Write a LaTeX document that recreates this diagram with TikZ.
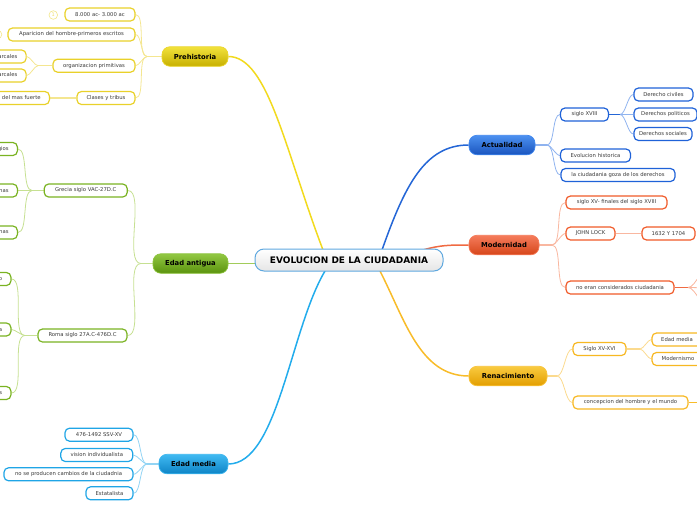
\documentclass[tikz,border=0pt]{standalone}
\usepackage{fontspec}
\setmainfont{DejaVu Sans}
\usetikzlibrary{calc}
\pgfdeclarelayer{bg}
\pgfsetlayers{bg,main}
% main node colours (border, top, bottom)
\definecolor{yB}{HTML}{EAD52A}\definecolor{yT}{HTML}{F2E23C}\definecolor{yD}{HTML}{C7B000}
\definecolor{gB}{HTML}{8CC33C}\definecolor{gT}{HTML}{92C843}\definecolor{gD}{HTML}{5B930E}
\definecolor{lB}{HTML}{3DB6EE}\definecolor{lT}{HTML}{40BAF2}\definecolor{lD}{HTML}{0E84C6}
\definecolor{bB}{HTML}{3F86EE}\definecolor{bT}{HTML}{4C90F0}\definecolor{bD}{HTML}{1A55BE}
\definecolor{rB}{HTML}{F47A58}\definecolor{rT}{HTML}{F57C5C}\definecolor{rD}{HTML}{D6461A}
\definecolor{oB}{HTML}{F8C33A}\definecolor{oT}{HTML}{F9CB40}\definecolor{oD}{HTML}{E39E00}
% sub node borders
\definecolor{yS}{HTML}{E9D12A}\definecolor{gS}{HTML}{7AB322}\definecolor{lS}{HTML}{1FA5E6}
\definecolor{bS}{HTML}{1F62D8}\definecolor{rS}{HTML}{F05A28}\definecolor{oS}{HTML}{F7B822}
% connectors
\definecolor{yC}{HTML}{F2DA1E}\definecolor{gC}{HTML}{A2CC5A}\definecolor{lC}{HTML}{22ACEC}
\definecolor{bC}{HTML}{2466D6}\definecolor{rC}{HTML}{F06A42}\definecolor{oC}{HTML}{F8BC2A}
\definecolor{ySc}{HTML}{F4E690}\definecolor{gSc}{HTML}{C6E092}\definecolor{lSc}{HTML}{92D4F4}
\definecolor{bSc}{HTML}{8FB3EF}\definecolor{rSc}{HTML}{F9B7A0}\definecolor{oSc}{HTML}{FBDA8E}
\definecolor{txt}{HTML}{3A3A3A}\definecolor{cB}{HTML}{5FA8DF}
\tikzset{
  ctr/.style={draw=cB, line width=1pt, top color=white, bottom color=black!10,
    rounded corners=9pt, font=\bfseries\fontsize{9}{10}\selectfont, text=black,
    minimum width=188pt, minimum height=22pt, inner sep=0pt},
  mn/.style n args={3}{draw=#1, line width=0.7pt, top color=#2, bottom color=#3,
    rounded corners=8pt, font=\bfseries\fontsize{6.8}{8}\selectfont, text=black,
    minimum height=19.5pt, inner sep=0pt},
  sub/.style={draw=#1, line width=1.2pt, rounded corners=4.5pt, fill=white,
    font=\fontsize{5.3}{6}\selectfont, text=txt, minimum height=13pt, inner sep=0pt},
  cut/.style={sub=#1, anchor=east, inner xsep=8.8pt},
  icon/.style={circle, draw=yS!55, line width=0.6pt, fill=white, minimum size=8.6pt,
    inner sep=0pt, font=\fontsize{5}{5}\selectfont, text=yS!70},
  conn/.style={draw=#1, line width=0.8pt},
  hub/.style={draw=#1, line width=1.1pt},
  trunk/.style={draw=#1, line width=1.5pt},
  fan/.style={out=180, in=0, looseness=0.6},
  fanr/.style={out=0, in=180, looseness=0.6}
}
\begin{document}
\begin{tikzpicture}[x=1pt, y=-1pt]
\useasboundingbox (0,0) rectangle (697,520);
\clip (0,0) rectangle (697,520);

% ---------- centre and main branches
\node[ctr] (c) at (349,260) {EVOLUCION DE LA CIUDADANIA};
\node[mn={yB}{yT}{yD}, minimum width=66pt] (pre) at (195,56.5) {Prehistoria};
\node[mn={gB}{gT}{gD}, minimum width=75pt] (ant) at (190.5,263.5) {Edad antigua};
\node[mn={lB}{lT}{lD}, minimum width=69pt] (med) at (193.5,464) {Edad media};
\node[mn={bB}{bT}{bD}, minimum width=66pt] (act) at (502,145) {Actualidad};
\node[mn={rB}{rT}{rD}, minimum width=70pt] (mod) at (504,245) {Modernidad};
\node[mn={oB}{oT}{oD}, minimum width=78pt] (ren) at (508,376) {Renacimiento};

% ---------- Prehistoria
\node[sub=yS, minimum width=70pt] (p1) at (100,14.5) {8.000 ac- 3.000 ac};
\node[sub=yS, minimum width=127pt] (p2) at (71.5,34.5) {Aparicion del hombre-primeros escritos};
\node[sub=yS, minimum width=82pt] (p3) at (94,65.7) {organizacion primitivas};
\node[sub=yS, minimum width=58pt] (p4) at (106,98) {Clases y tribus};
\node[cut=yS] (p31) at (26.7,56.5) {Comunidades matriarcales};
\node[cut=yS] (p32) at (26.7,75.5) {Comunidades patriarcales};
\node[cut=yS] (p41) at (50,98) {La ley del mas fuerte};
\node[icon] (i1) at (53.3,15) {1};
\node[icon] (i2) at (-2.5,34.5) {1};

% ---------- Edad antigua
\node[sub=gS, minimum width=83pt] (g) at (85.7,190.5) {Grecia siglo VAC-27D.C};
\node[cut=gS] (g1) at (18,149) {Ciudadanos con privilegios};
\node[cut=gS] (g2) at (18,190.5) {Democracia en Atenas};
\node[cut=gS] (g3) at (18,232.5) {Esparta y Atenas};
\node[sub=gS, minimum width=89pt] (r) at (82.5,335.5) {Roma siglo 27A.C-476D.C};
\node[cut=gS] (r1) at (11.5,279) {Ciudadania por derecho};
\node[cut=gS] (r2) at (11.5,329.5) {Ciudadania romana};
\node[cut=gS] (r3) at (11.5,393) {Derechos civiles};

% ---------- Edad media
\node[sub=lS, minimum width=68pt] (m1) at (99,434.7) {476-1492 SSV-XV};
\node[sub=lS, minimum width=72pt] (m2) at (96.8,455) {vision individualista};
\node[sub=lS, minimum width=129pt] (m3) at (68.5,474.3) {no se producen cambios de la ciudadnia};
\node[sub=lS, minimum width=47pt] (m4) at (109.5,493.3) {Estatalista};

% ---------- Actualidad
\node[sub=bS, minimum width=48pt] (a1) at (584.5,114.5) {siglo XVIII};
\node[sub=bS, minimum width=59pt] (a11) at (663.5,94.5) {Derecho civiles};
\node[sub=bS, minimum width=63pt] (a12) at (665.5,114.5) {Derechos politicos};
\node[sub=bS, minimum width=58pt] (a13) at (663,134) {Derechos sociales};
\node[sub=bS, minimum width=70pt] (a2) at (595.5,155.5) {Evolucion historica};
\node[sub=bS, minimum width=114pt] (a3) at (618,175) {la ciudadania goza de los derechos};

% ---------- Modernidad
\node[sub=rS, minimum width=101pt] (mo1) at (616.5,202.5) {siglo XV- finales del siglo XVIII};
\node[sub=rS, minimum width=49pt] (mo2) at (590.5,233.5) {JOHN LOCK};
\node[sub=rS, minimum width=53pt] (mo21) at (668.5,233.5) {1632 Y 1704};
\node[sub=rS, minimum width=108pt] (mo3) at (620,287.5) {no eran considerados ciudadania};
\coordinate (mo31) at (712,262);
\coordinate (mo32) at (712,288);
\coordinate (mo33) at (712,313);

% ---------- Renacimiento
\node[sub=oS, minimum width=53pt] (re1) at (599.5,349) {Siglo XV-XVI};
\node[sub=oS, minimum width=50pt] (re11) at (677,339.5) {Edad media};
\node[sub=oS, minimum width=52pt] (re12) at (678,359) {Modernismo};
\node[sub=oS, minimum width=115pt] (re2) at (630.5,402.5) {concepcion del hombre y el mundo};
\coordinate (re21) at (710,402.5);

% ---------- connectors
\begin{pgfonlayer}{bg}
  \coordinate (ey) at (323,250);
  \coordinate (eg) at (256,263.5);
  \coordinate (el) at (325,271);
  \coordinate (eb) at (382,250);
  \coordinate (er) at (423,250);
  \coordinate (eo) at (380,271);
  \draw[trunk=yC] (ey) .. controls (285,150) and (268,56.5) .. (pre.east);
  \draw[trunk=gC] (eg) -- (ant.east);
  \draw[trunk=lC] (el) .. controls (290,330) and (278,464) .. (med.east);
  \draw[trunk=bC] (eb) .. controls (405,185) and (425,145) .. (act.west);
  \draw[trunk=rC] (er) .. controls (440,245) and (450,245) .. (mod.west);
  \draw[trunk=oC] (eo) .. controls (405,320) and (420,376) .. (ren.west);

  % Prehistoria
  \coordinate (jp) at (147,56.5);
  \draw[hub=ySc] (pre.west) -- (jp);
  \foreach \n in {p1,p2,p3,p4} \draw[conn=ySc] (jp) to[fan] (\n.east);
  \coordinate (jp3) at (38,65.7);
  \draw[hub=ySc] (p3.west) -- (jp3);
  \foreach \n in {p31,p32} \draw[conn=ySc] (jp3) to[fan] (\n.east);
  \draw[hub=ySc] (p4.west) -- (p41.east);

  % Edad antigua
  \coordinate (ja) at (141,263.5);
  \draw[hub=gSc] (ant.west) -- (ja);
  \foreach \n in {g,r} \draw[conn=gSc] (ja) to[fan] (\n.east);
  \coordinate (jg) at (32,190.5);
  \draw[hub=gSc] (g.west) -- (jg);
  \foreach \n in {g1,g2,g3} \draw[conn=gSc] (jg) to[fan] (\n.east);
  \coordinate (jr) at (25,335.5);
  \draw[hub=gSc] (r.west) -- (jr);
  \foreach \n in {r1,r2,r3} \draw[conn=gSc] (jr) to[fan] (\n.east);

  % Edad media
  \coordinate (jm) at (147,464);
  \draw[hub=lSc] (med.west) -- (jm);
  \foreach \n in {m1,m2,m3,m4} \draw[conn=lSc] (jm) to[fan] (\n.east);

  % Actualidad
  \coordinate (jac) at (547,145);
  \draw[hub=bSc] (act.east) -- (jac);
  \foreach \n in {a1,a2,a3} \draw[conn=bSc] (jac) to[fanr] (\n.west);
  \coordinate (ja1) at (620,114.5);
  \draw[hub=bC] (a1.east) -- (ja1);
  \foreach \n in {a11,a12,a13} \draw[conn=bSc] (ja1) to[fanr] (\n.west);

  % Modernidad
  \coordinate (jmo) at (552,245);
  \draw[hub=rSc] (mod.east) -- (jmo);
  \foreach \n in {mo1,mo2,mo3} \draw[conn=rSc] (jmo) to[fanr] (\n.west);
  \draw[conn=rSc] (mo2.east) -- (mo21.west);
  \coordinate (jmo3) at (688,287.5);
  \draw[hub=rC] (mo3.east) -- (jmo3);
  \foreach \n in {mo31,mo32,mo33} \draw[conn=rSc] (jmo3) to[fanr] (\n);

  % Renacimiento
  \coordinate (jre) at (557,376);
  \draw[hub=oSc] (ren.east) -- (jre);
  \foreach \n in {re1,re2} \draw[conn=oSc] (jre) to[fanr] (\n.west);
  \coordinate (jre1) at (640,349);
  \draw[hub=oSc] (re1.east) -- (jre1);
  \foreach \n in {re11,re12} \draw[conn=oSc] (jre1) to[fanr] (\n.west);
  \draw[hub=oC] (re2.east) -- (re21);
\end{pgfonlayer}
\end{tikzpicture}
\end{document}
